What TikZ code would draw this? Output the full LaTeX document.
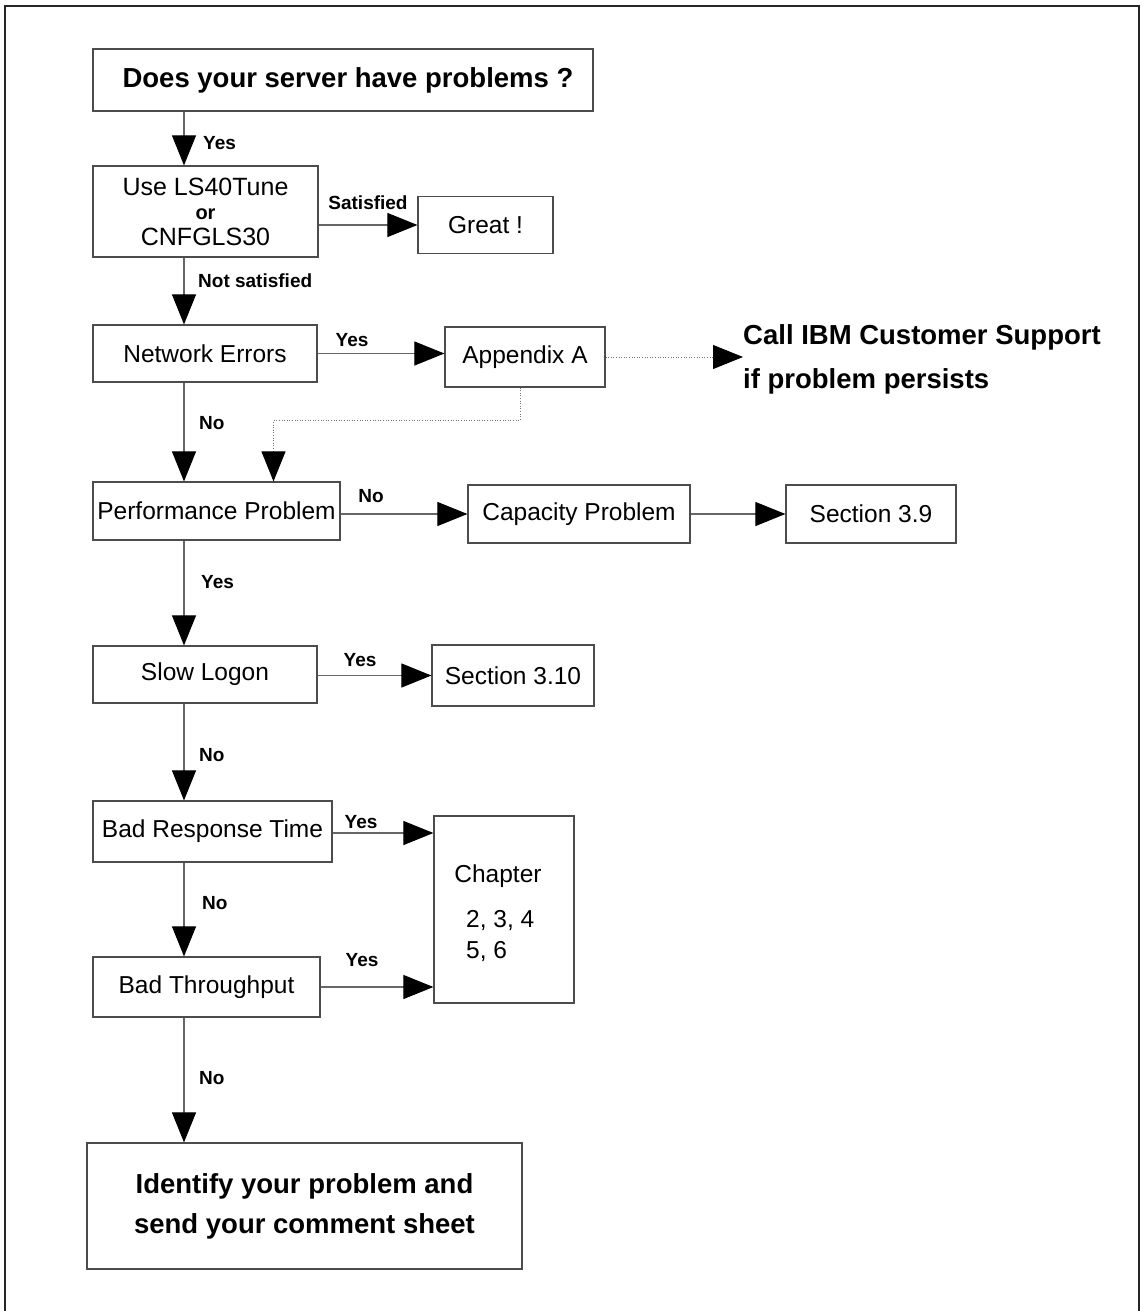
\documentclass[tikz,border=0pt]{standalone}
\usepackage{fontspec}
\setmainfont{Liberation Sans}
\usetikzlibrary{arrows.meta}

\begin{document}
\begin{tikzpicture}[x=1pt,y=-1pt,
  box/.style={draw=black!70, line width=1.2pt, rectangle, inner sep=0pt,
    font=\fontsize{24.5}{29}\selectfont, align=center},
  lab/.style={inner sep=0pt, font=\bfseries\fontsize{19}{22}\selectfont},
  bigtext/.style={inner sep=0pt, font=\bfseries\fontsize{27.5}{33}\selectfont},
  conn/.style={draw=black!60, line width=1.1pt,
    -{Triangle[length=30pt,width=24pt,color=black]}},
  dotconn/.style={conn, draw=black!55, line width=0.9pt, dash pattern=on 1pt off 1.6pt},
]
\useasboundingbox (0,0) rectangle (1141,1311);

% outer frame, open at the bottom
\draw[line width=2.4pt, black!85] (5,1320) -- (5,6) -- (1139,6) -- (1139,1320);

% column of the main decisions
\coordinate (vx) at (184,0);

\node[box, minimum width=500pt, minimum height=62pt, font=\bfseries\fontsize{27.5}{33}\selectfont]
  (q) at (343,80) {\hspace*{10pt}Does your server have problems ?};
\node[box, minimum width=225pt, minimum height=91pt, font=\fontsize{25}{25}\selectfont]
  (tune) at (205.5,211.5) {Use LS40Tune\\[-1pt]{\bfseries\fontsize{20}{20}\selectfont or}\\[1pt]CNFGLS30};
\node[box, minimum width=135pt, minimum height=57pt] (great) at (485.5,225) {Great !};
\node[box, minimum width=224pt, minimum height=57pt] (net) at (205,353.5) {Network Errors};
\node[box, minimum width=160pt, minimum height=60pt] (appa) at (525,357) {Appendix A};
\node[bigtext, anchor=west, align=left, font=\bfseries\fontsize{27.5}{44}\selectfont]
  (call) at (743,359) {Call IBM Customer Support\\if problem persists};
\node[box, minimum width=247pt, minimum height=58pt] (perf) at (216.5,511) {Performance Problem};
\node[box, minimum width=222pt, minimum height=58pt] (cap) at (579,514) {Capacity Problem};
\node[box, minimum width=170pt, minimum height=58pt] (s39) at (871,514) {Section 3.9};
\node[box, minimum width=224pt, minimum height=57pt] (slow) at (205,674.5) {Slow Logon};
\node[box, minimum width=162pt, minimum height=61pt] (s310) at (513,675.5) {Section 3.10};
\node[box, minimum width=239pt, minimum height=61pt] (resp) at (212.5,831.5) {Bad Response Time};
\node[box, minimum width=140pt, minimum height=187pt] (chap) at (504,909.5) {};
\node[inner sep=0pt, font=\fontsize{24.5}{29}\selectfont] (chapt) at (498,876) {Chapter};
\node[inner sep=0pt, anchor=west, font=\fontsize{24.5}{29}\selectfont] (chapa) at (466,921) {2, 3, 4};
\node[inner sep=0pt, anchor=west, font=\fontsize{24.5}{29}\selectfont] (chapb) at (466,952) {5, 6};
\node[box, minimum width=227pt, minimum height=60pt] (thr) at (206.5,987) {Bad Throughput};
\node[box, minimum width=435pt, minimum height=126pt, font=\bfseries\fontsize{27.5}{40}\selectfont]
  (fin) at (304.5,1206) {Identify your problem and\\send your comment sheet};

% vertical connectors
\draw[conn] (q.south -| vx) -- (tune.north -| vx);
\draw[conn] (tune.south -| vx) -- (net.north -| vx);
\draw[conn] (net.south -| vx) -- (perf.north -| vx);
\draw[conn] (perf.south -| vx) -- (slow.north -| vx);
\draw[conn] (slow.south -| vx) -- (resp.north -| vx);
\draw[conn] (resp.south -| vx) -- (thr.north -| vx);
\draw[conn] (thr.south -| vx) -- (fin.north -| vx);

% horizontal connectors
\draw[conn] (tune.east |- great.west) -- (great.west);
\draw[conn] (net.east) -- (net.east -| appa.west);
\draw[dotconn] (appa.east) -- (appa.east -| call.west);
\draw[dotconn] ([xshift=-5pt]appa.south) -- ++(0,33) -| ([xshift=57pt]perf.north);
\draw[conn] (perf.east |- cap.west) -- (cap.west);
\draw[conn] (cap.east) -- (s39.west);
\draw[conn] (slow.east |- s310.west) -- (s310.west);
\draw[conn] (resp.east |- 0,833) -- (chap.west |- 0,833);
\draw[conn] (thr.east) -- (thr.east -| chap.west);

% branch labels
\node[lab, anchor=west] (l1) at (203,143) {Yes};
\node[lab] (l2) at (368,203) {Satisfied};
\node[lab, anchor=west] (l3) at (198,281) {Not satisfied};
\node[lab] (l4) at (352,340) {Yes};
\node[lab, anchor=west] (l5) at (199,423) {No};
\node[lab] (l6) at (371,496) {No};
\node[lab, anchor=west] (l7) at (201,582) {Yes};
\node[lab] (l8) at (360,660) {Yes};
\node[lab, anchor=west] (l9) at (199,755) {No};
\node[lab] (l10) at (361,822) {Yes};
\node[lab, anchor=west] (l11) at (202,903) {No};
\node[lab] (l12) at (362,960) {Yes};
\node[lab, anchor=west] (l13) at (199,1078) {No};
\end{tikzpicture}
\end{document}
